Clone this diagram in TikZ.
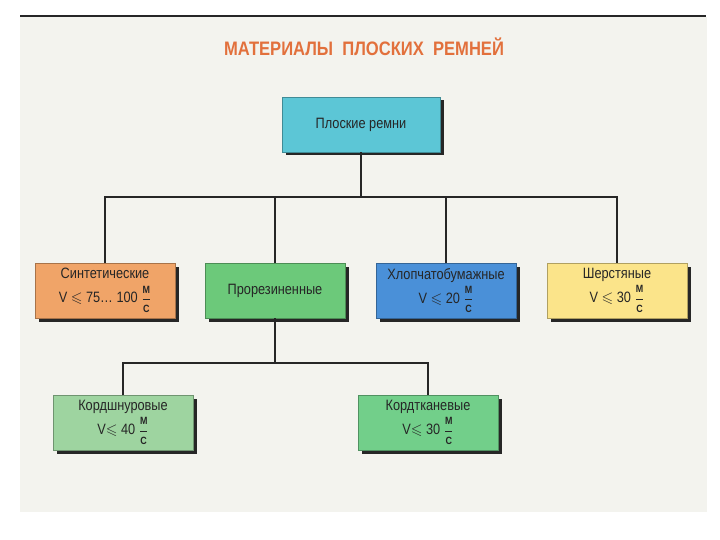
\documentclass[tikz,border=0pt]{standalone}
\usepackage{amssymb}
\usepackage{fontspec}
\setmainfont{Liberation Sans}[FakeStretch=0.85]
\newfontfamily\titlefont{Liberation Sans}[FakeStretch=0.85]
\newcommand{\msfr}{\ensuremath{\displaystyle\frac{\mbox{\fontsize{10.5}{10}\selectfont\bfseries М}}{\mbox{\fontsize{10.5}{10}\selectfont\bfseries С}}}}
\definecolor{panel}{RGB}{243,243,238}
\definecolor{titleor}{RGB}{226,112,60}
\definecolor{ccyan}{RGB}{92,198,214}
\definecolor{corange}{RGB}{240,164,104}
\definecolor{cgreen}{RGB}{108,201,122}
\definecolor{cblue}{RGB}{74,144,216}
\definecolor{cyellow}{RGB}{251,228,138}
\definecolor{clgreen}{RGB}{158,212,160}
\definecolor{cmgreen}{RGB}{114,207,138}
\tikzset{
  boxnode/.style={draw=#1!70!black, line width=0.8pt, fill=#1, minimum width=140pt, minimum height=55pt,
    align=center, font=\fontsize{15}{24}\selectfont, text=black!85,
    inner sep=2pt},
  shad/.style={fill=black!85},
  conn/.style={line width=1.6pt, black!85}
}
\newcommand{\shadbox}[5]{% name, x, y, color, text
  \fill[shad] ({#2-70+3.5},{#3-27.5+3.5}) rectangle ({#2+70+3.5},{#3+27.5+3.5});
  \node[boxnode=#4] (#1) at (#2,#3) {#5};
}
\begin{document}
\begin{tikzpicture}[x=1pt,y=-1pt]
\useasboundingbox (0,0) rectangle (720,540);
\fill[white] (0,0) rectangle (720,540);
\fill[panel] (20,17) rectangle (707,512);
\draw[line width=2pt, black!85] (20,16) -- (706,16);
\node[font=\titlefont\bfseries\fontsize{19.5}{22}\selectfont, text=titleor] (title) at (364,47)
  {МАТЕРИАЛЫ\ \ ПЛОСКИХ\ \ РЕМНЕЙ};
% connectors
\coordinate (bar1) at (361,197);
\coordinate (bar2) at (275,363);
% top box
\fill[shad] (285.5,100.5) rectangle (443.5,155.5);
\node[boxnode=ccyan, minimum width=158pt] (top) at (361,124.5) {Плоские ремни};
\shadbox{syn}{105}{290.5}{corange}{Синтетические\\V $\leqslant$ 75\dots\ 100 \msfr}
\shadbox{rub}{275}{290.5}{cgreen}{Прорезиненные}
\shadbox{cot}{446}{290.5}{cblue}{Хлопчатобумажные\\V $\leqslant$ 20 \msfr}
\shadbox{wool}{617}{290.5}{cyellow}{Шерстяные\\V $\leqslant$ 30 \msfr}
\shadbox{cord}{123}{422.5}{clgreen}{Кордшнуровые\\V$\leqslant$ 40 \msfr}
\shadbox{fab}{428}{422.5}{cmgreen}{Кордтканевые\\V$\leqslant$ 30 \msfr}
\draw[conn] (top.south) -- (bar1);
\draw[conn] (syn.north) |- (bar1) -| (wool.north);
\draw[conn] (rub.north) -- (rub.north |- bar1);
\draw[conn] (cot.north) -- (cot.north |- bar1);
\draw[conn] (rub.south) -- (bar2);
\draw[conn] (cord.north) |- (bar2) -| (fab.north);
\end{tikzpicture}
\end{document}
